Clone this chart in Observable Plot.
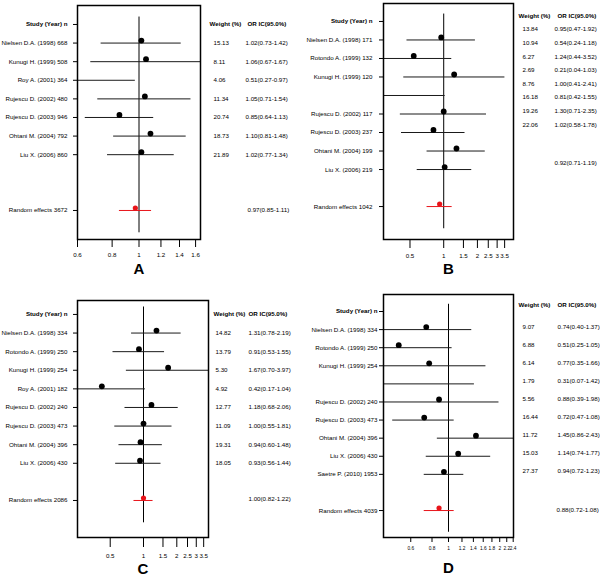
<!DOCTYPE html>
<html><head><meta charset="utf-8">
<script src="https://cdn.jsdelivr.net/npm/d3@7"></script>
<script src="https://cdn.jsdelivr.net/npm/@observablehq/plot@0.6"></script>
<style>
html,body{margin:0;padding:0;background:#fff;}
#root{position:relative;width:600px;height:579px;overflow:hidden;background:#fff;}
.panel{position:absolute;}
</style></head><body><div id="root"></div>
<script>
// ---------- Panel A ----------
const labelsA = ["Nielsen D.A. (1998) 668", "Kunugi H. (1999) 508", "Roy A. (2001) 364", "Rujescu D. (2002) 480", "Rujescu D. (2003) 946", "Ohtani M. (2004) 792", "Liu X. (2006) 860"];
const orA = [1.02, 1.06, 0.51, 1.05, 0.85, 1.10, 1.02];
const lowA = [0.73, 0.67, 0.27, 0.71, 0.64, 0.81, 0.77];
const highA = [1.42, 1.67, 0.97, 1.54, 1.13, 1.48, 1.34];
const weightA = [15.13, 8.11, 4.06, 11.34, 20.74, 18.73, 21.89];
const pooledLabelA = "Random effects 3672";
const pooledA = [0.97, 0.85, 1.11];
const ticksA = [0.6, 0.8, 1, 1.2, 1.4, 1.6];

// ---------- Panel B ----------
const labelsB = ["Nielsen D.A. (1998) 171", "Rotondo A. (1999) 132", "Kunugi H. (1999) 120", "", "Rujescu D. (2002) 117", "Rujescu D. (2003) 237", "Ohtani M. (2004) 199", "Liu X. (2006) 219"];
const orB = [0.95, 0.54, 1.24, 0.21, 1.00, 0.81, 1.30, 1.02];
const lowB = [0.47, 0.24, 0.44, 0.04, 0.41, 0.42, 0.71, 0.58];
const highB = [1.92, 1.18, 3.52, 1.03, 2.41, 1.55, 2.35, 1.78];
const weightB = [13.84, 10.94, 6.27, 2.69, 8.76, 16.18, 19.26, 22.06];
const pooledLabelB = "Random effects 1042";
const pooledB = [0.92, 0.71, 1.19];
const ticksB = [0.5, 1, 1.5, 2, 2.5, 3, 3.5];

// ---------- Panel C ----------
const labelsC = ["Nielsen D.A. (1998) 334", "Rotondo A. (1999) 250", "Kunugi H. (1999) 254", "Roy A. (2001) 182", "Rujescu D. (2002) 240", "Rujescu D. (2003) 473", "Ohtani M. (2004) 396", "Liu X. (2006) 430"];
const orC = [1.31, 0.91, 1.67, 0.42, 1.18, 1.00, 0.94, 0.93];
const lowC = [0.78, 0.53, 0.70, 0.17, 0.68, 0.55, 0.60, 0.56];
const highC = [2.19, 1.55, 3.97, 1.04, 2.06, 1.81, 1.48, 1.44];
const weightC = [14.82, 13.79, 5.30, 4.92, 12.77, 11.09, 19.31, 18.05];
const pooledLabelC = "Random effects 2086";
const pooledC = [1.00, 0.82, 1.22];
const ticksC = [0.5, 1, 1.5, 2, 2.5, 3, 3.5];

// ---------- Panel D ----------
const labelsD = ["Nielsen D.A. (1998) 334", "Rotondo A. (1999) 250", "Kunugi H. (1999) 254", "", "Rujescu D. (2002) 240", "Rujescu D. (2003) 473", "Ohtani M. (2004) 396", "Liu X. (2006) 430", "Saetre P. (2010) 1953"];
const orD = [0.74, 0.51, 0.77, 0.31, 0.88, 0.72, 1.45, 1.14, 0.94];
const lowD = [0.40, 0.25, 0.35, 0.07, 0.39, 0.47, 0.86, 0.74, 0.72];
const highD = [1.37, 1.05, 1.66, 1.42, 1.98, 1.08, 2.43, 1.77, 1.23];
const weightD = [9.07, 6.88, 6.14, 1.79, 5.56, 16.44, 11.72, 15.03, 27.37];
const pooledLabelD = "Random effects 4039";
const pooledD = [0.88, 0.72, 1.08];
const ticksD = [0.6, 0.8, 1, 1.2, 1.4, 1.6, 1.8, 2, 2.2, 2.4];

const headerStudy = "Study (Year) n";
const headerWeight = "Weight (%)";
const headerOR = "OR IC(95.0%)";

const panels = [
  {id: "A", labels: labelsA, or: orA, low: lowA, high: highA, weight: weightA, pooledLabel: pooledLabelA, pooled: pooledA, ticks: ticksA,
   xDomain: [0.6, 1 / 0.6], yDomain: [-1.02, 11.56], gap: 3, left: 0, top: 0, height: 290, ml: 77, mr: 100, mt: 5, mb: 51,
   labDx: -10, tA: 0, tB: 1, tDy: 0, hDy: 0, wDx: 13, oDx: 45, hwDx: 9, hoDx: 47, pDx: 47, pDy: 0, tickSize: 8, tickPad: 5, tickFont: 6.2, letterDy: 34},
  {id: "B", labels: labelsB, or: orB, low: lowB, high: highB, weight: weightB, pooledLabel: pooledLabelB, pooled: pooledB, ticks: ticksB,
   xDomain: [0.29, 4.2], yDomain: [-0.97, 11.78], gap: 2, left: 300, top: 0, height: 290, ml: 83, mr: 87, mt: 3, mb: 51,
   labDx: -11, tA: -0.305, tB: 0.735, tDy: 0, hDy: 0, wDx: 9, oDx: 41, hwDx: 5, hoDx: 44, pDx: 41, pDy: -44, tickSize: 9, tickPad: 5, tickFont: 6.2, letterDy: 34},
  {id: "C", labels: labelsC, or: orC, low: lowC, high: highC, weight: weightC, pooledLabel: pooledLabelC, pooled: pooledC, ticks: ticksC,
   xDomain: [0.253, 3.87], yDomain: [-0.75, 11.99], gap: 2, left: 0, top: 290, height: 289, ml: 77, mr: 92, mt: 10, mb: 42,
   labDx: -10, tA: 0, tB: 1, tDy: 0, hDy: 0, wDx: 7, oDx: 40, hwDx: 5, hoDx: 40, pDx: 40, pDy: -1, tickSize: 10, tickPad: 6, tickFont: 6.2, letterDy: 36},
  {id: "D", labels: labelsD, or: orD, low: lowD, high: highD, weight: weightD, pooledLabel: pooledLabelD, pooled: pooledD, ticks: ticksD,
   xDomain: [1 / 2.41, 2.41], yDomain: [-0.94, 12.49], gap: 2, left: 300, top: 290, height: 289, ml: 83, mr: 87, mt: 4, mb: 42,
   labDx: -6, tA: 0, tB: 1, tDy: -3, hDy: -6, wDx: 9, oDx: 44, hwDx: 5, hoDx: 44, pDx: 43, pDy: -1, tickSize: 5, tickPad: 4, tickFont: 4.8, letterDy: 35}
];

const f2 = v => v.toFixed(2);
const orText = d => `${f2(d.or)}(${f2(d.low)}-${f2(d.high)})`;

function draw(p) {
  const n = p.labels.length;
  const rows = p.labels.map((label, i) => ({row: i + 1, label, or: p.or[i], low: p.low[i], high: p.high[i], weight: p.weight[i]}));
  const pooledRow = n + p.gap;
  const pooled = {row: pooledRow, label: p.pooledLabel, or: p.pooled[0], low: p.pooled[1], high: p.pooled[2]};
  const tRow = r => p.tA + p.tB * r;
  const tickRows = [0, ...rows.filter(d => d.label).map(d => d.row), pooledRow];
  const header = [{row: 0}];
  const chart = Plot.plot({
    width: 300, height: p.height,
    marginLeft: p.ml, marginRight: p.mr, marginTop: p.mt, marginBottom: p.mb,
    style: {fontFamily: "'Liberation Sans', Arial, sans-serif", fontSize: "6.2px", background: "white", color: "black", overflow: "visible"},
    x: {type: "log", domain: p.xDomain},
    y: {type: "linear", domain: p.yDomain, reverse: true},
    marks: [
      Plot.ruleX([1], {y1: -0.4, y2: pooledRow + 1.2, stroke: "black", strokeWidth: 1}),
      Plot.ruleY(rows, {y: "row", x1: "low", x2: "high", stroke: "#1a1a1a", strokeWidth: 1, clip: true}),
      Plot.dot(rows, {x: "or", y: "row", r: 2.9, fill: "black", stroke: "none", dy: -2.5, clip: true}),
      Plot.ruleY([pooled], {y: "row", x1: "low", x2: "high", stroke: "#e8141a", strokeWidth: 1, clip: true}),
      Plot.dot([pooled], {x: "or", y: "row", r: 2.6, fill: "#e8141a", stroke: "none", dy: -2.5, clip: true}),
      Plot.frame({stroke: "black", strokeWidth: 1.5}),
      Plot.axisY({ticks: tickRows, tickSize: 4, fill: "none", label: null}),
      Plot.axisX({ticks: p.ticks, tickFormat: d => String(d), tickSize: p.tickSize, tickPadding: p.tickPad, label: null, fontSize: p.tickFont}),
      Plot.text(header, {y: "row", text: () => headerStudy, frameAnchor: "left", textAnchor: "end", dx: p.labDx, fontWeight: "bold"}),
      Plot.text(rows.filter(d => d.label).concat([pooled]), {y: "row", text: "label", frameAnchor: "left", textAnchor: "end", dx: p.labDx}),
      Plot.text(header, {y: d => tRow(d.row), text: () => headerWeight, frameAnchor: "right", textAnchor: "start", dx: p.hwDx, dy: p.hDy, fontWeight: "bold"}),
      Plot.text(header, {y: d => tRow(d.row), text: () => headerOR, frameAnchor: "right", textAnchor: "start", dx: p.hoDx, dy: p.hDy, fontWeight: "bold"}),
      Plot.text(rows, {y: d => tRow(d.row), text: d => f2(d.weight), frameAnchor: "right", textAnchor: "start", dx: p.wDx, dy: p.tDy}),
      Plot.text(rows, {y: d => tRow(d.row), text: orText, frameAnchor: "right", textAnchor: "start", dx: p.oDx, dy: p.tDy}),
      Plot.text([pooled], {y: "row", text: orText, frameAnchor: "right", textAnchor: "start", dx: p.pDx, dy: p.pDy}),
      Plot.text([p.id], {frameAnchor: "bottom", text: d => d, dy: p.letterDy, fontSize: 15, fontWeight: "bold"})
    ]
  });
  const div = document.createElement("div");
  div.className = "panel";
  div.style.left = p.left + "px";
  div.style.top = p.top + "px";
  div.appendChild(chart);
  document.getElementById("root").appendChild(div);
}

panels.forEach(draw);
</script>
</body></html>
